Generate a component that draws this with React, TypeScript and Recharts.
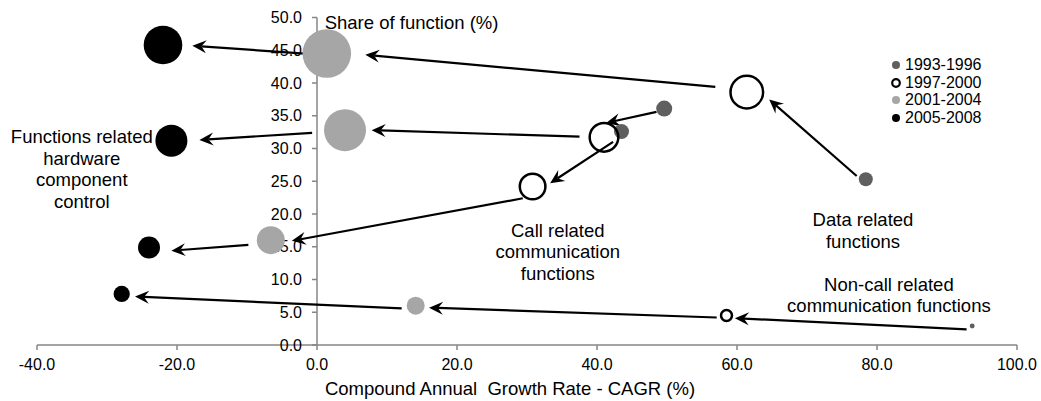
import React from 'react';
import { ScatterChart, Scatter, XAxis, YAxis, ZAxis, ReferenceLine, Legend, Label } from 'recharts';

const FONT = '"Liberation Sans", Arial, sans-serif';

const periods = ['1993-1996', '1997-2000', '2001-2004', '2005-2008'];
const periodFill = ['#5f5f5f', 'none', '#a6a6a6', '#000000'];
const periodStroke = ['none', '#000000', 'none', 'none'];

// Data related functions
const dataCagr = [78.4, 61.4, 1.4, -22.0];
const dataShare = [25.3, 38.6, 44.5, 45.8];
const dataSize = [49, 266, 590, 373];
// Functions related hardware component control
const hwCagr = [49.6, 41.0, 4.0, -20.8];
const hwShare = [36.1, 31.7, 32.8, 31.2];
const hwSize = [64, 205, 441, 256];
// Call related communication functions
const callCagr = [43.5, 30.8, -6.6, -24.0];
const callShare = [32.6, 24.2, 16.0, 14.9];
const callSize = [56, 164, 196, 121];
// Non-call related communication functions
const nonCallCagr = [93.6, 58.5, 14.1, -27.9];
const nonCallShare = [2.9, 4.5, 6.0, 7.8];
const nonCallSize = [6, 30, 81, 66];

// arrows: [fromX, fromY, toX, toY]
const dataArrows = [[77.1, 25.8, 64.6, 37.5], [56.9, 39.4, 6.9, 44.3], [-0.7, 44.4, -17.8, 45.7]];
const hwArrows = [[48.5, 35.6, 41.3, 33.9], [37.5, 31.8, 7.8, 32.8], [-0.7, 32.4, -16.8, 31.3]];
const callArrows = [[42.3, 31.0, 33.3, 24.7], [29.4, 22.4, -3.6, 15.9], [-9.8, 15.3, -20.8, 14.4]];
const nonCallArrows = [[92.8, 2.4, 59.7, 4.1], [57.1, 4.2, 16.0, 5.7], [12.1, 5.6, -26.0, 7.4]];

const xTicks = [-40, -20, 0, 20, 40, 60, 80, 100];
const yTicks = [0, 5, 10, 15, 20, 25, 30, 35, 40, 45, 50];

const groups = [
  { cagr: dataCagr, share: dataShare, size: dataSize },
  { cagr: hwCagr, share: hwShare, size: hwSize },
  { cagr: callCagr, share: callShare, size: callSize },
  { cagr: nonCallCagr, share: nonCallShare, size: nonCallSize },
];
const allArrows = [...dataArrows, ...hwArrows, ...callArrows, ...nonCallArrows];

const annotations = [
  { x: 1.1, y: 48.3, anchor: 'start', lines: ['Share of function (%)'] },
  { x: -33.6, y: 30.8, anchor: 'middle', lines: ['Functions related', 'hardware', 'component', 'control'] },
  { x: 34.4, y: 16.5, anchor: 'middle', lines: ['Call related', 'communication', 'functions'] },
  { x: 78.0, y: 18.1, anchor: 'middle', lines: ['Data related', 'functions'] },
  { x: 81.7, y: 8.3, anchor: 'middle', lines: ['Non-call related', 'communication functions'] },
];

const periodData = periods.map((_, i) =>
  groups.map((g) => ({ x: g.cagr[i], y: g.share[i], z: g.size[i] }))
);
const yTickData = yTicks.map((v) => ({ x: 0, y: v }));

const YTickShape = (props: any) => {
  const { cx, cy, payload } = props;
  return (
    <g>
      <line x1={cx - 5} x2={cx} y1={cy} y2={cy} stroke="#868686" strokeWidth={1.5} />
      <text x={cx - 15} y={cy} dy="0.35em" textAnchor="end" fontSize={16} fill="#000" fontFamily={FONT}>
        {payload.y.toFixed(1)}
      </text>
    </g>
  );
};

const AnnotationShape = (props: any) => {
  const { cx, cy, payload } = props;
  return (
    <text x={cx} y={cy} textAnchor={payload.anchor} fontSize={18.5} fill="#000" fontFamily={FONT}>
      {payload.lines.map((l: string, i: number) => (
        <tspan key={i} x={cx} y={cy + i * 21.5}>{l}</tspan>
      ))}
    </text>
  );
};

const ArrowShape = (props: any) => {
  const { x1, y1, x2, y2 } = props;
  const ang = Math.atan2(y2 - y1, x2 - x1);
  const L = 14, W = 6.5, N = 9;
  const c = Math.cos(ang), s = Math.sin(ang);
  const pt = (bx: number, by: number) => `${x2 + bx * c - by * s},${y2 + bx * s + by * c}`;
  const nx = x2 - N * c, ny = y2 - N * s;
  return (
    <g>
      <line x1={x1} y1={y1} x2={nx} y2={ny} stroke="#000" strokeWidth={2.2} />
      <path d={`M${pt(0, 0)} L${pt(-L, -W)} L${pt(-N, 0)} L${pt(-L, W)} Z`} fill="#000" />
    </g>
  );
};

const renderLegend = () => (
  <div style={{ fontFamily: FONT, fontSize: 16, color: '#000' }}>
    {periods.map((p, i) => (
      <div key={p} style={{ display: 'flex', alignItems: 'center', height: 17.5, whiteSpace: 'nowrap' }}>
        <svg width={12} height={12} style={{ display: 'block' }}>
          <circle
            cx={6}
            cy={6}
            r={i === 1 ? 3.8 : 4}
            fill={i === 1 ? '#fff' : periodFill[i]}
            stroke={periodStroke[i]}
            strokeWidth={2.2}
          />
        </svg>
        <span style={{ marginLeft: 3.3, lineHeight: '17.5px' }}>{p}</span>
      </div>
    ))}
  </div>
);

export default function App() {
  return (
    <div style={{ position: 'absolute', left: 0, top: 0, width: 1041, height: 401, background: '#fff' }}>
      <ScatterChart
        width={1041}
        height={401}
        margin={{ top: 17.5, right: 24, bottom: 26, left: 37 }}
        style={{ fontFamily: FONT }}
      >
        <XAxis
          type="number"
          dataKey="x"
          domain={[-40, 100]}
          ticks={xTicks}
          interval={0}
          tickFormatter={(v: number) => v.toFixed(1)}
          tickSize={5}
          tickMargin={9}
          height={30}
          axisLine={{ stroke: '#868686', strokeWidth: 1.5 }}
          tickLine={{ stroke: '#868686', strokeWidth: 1.5 }}
          tick={{ fontSize: 16, fill: '#000', fontFamily: FONT }}
        >
          <Label
            content={(p: any) => {
              const vb = p.viewBox || { x: 37, y: 345, width: 980 };
              return (
                <text
                  x={vb.x + vb.width / 2 - 17}
                  y={vb.y + 50}
                  textAnchor="middle"
                  fontSize={18.5}
                  fill="#000"
                  fontFamily={FONT}
                  style={{ whiteSpace: 'pre' }}
                >
                  {'Compound Annual\u00a0 Growth Rate - CAGR (%)'}
                </text>
              );
            }}
          />
        </XAxis>
        <YAxis type="number" dataKey="y" domain={[0, 50]} hide />
        <ZAxis type="number" dataKey="z" domain={[0, 600]} range={[0, 600 * Math.PI]} />
        <ReferenceLine x={0} stroke="#868686" strokeWidth={1.5} />
        <Scatter data={yTickData} shape={YTickShape} isAnimationActive={false} legendType="none" />
        <Scatter data={annotations} shape={AnnotationShape} isAnimationActive={false} legendType="none" />
        {allArrows.map((a, i) => (
          <ReferenceLine
            key={'arr' + i}
            segment={[{ x: a[0], y: a[1] }, { x: a[2], y: a[3] }]}
            shape={ArrowShape}
            ifOverflow="visible"
          />
        ))}
        {periods.map((p, i) => (
          <Scatter
            key={p}
            name={p}
            data={periodData[i]}
            fill={periodFill[i]}
            stroke={periodStroke[i]}
            strokeWidth={i === 1 ? 2.5 : 0}
            isAnimationActive={false}
          />
        ))}
        <Legend
          layout="horizontal"
          verticalAlign="middle"
          align="center"
          content={renderLegend}
          wrapperStyle={{ left: 889.7, top: 56.25, width: 'auto', height: 'auto' }}
        />
      </ScatterChart>
    </div>
  );
}
